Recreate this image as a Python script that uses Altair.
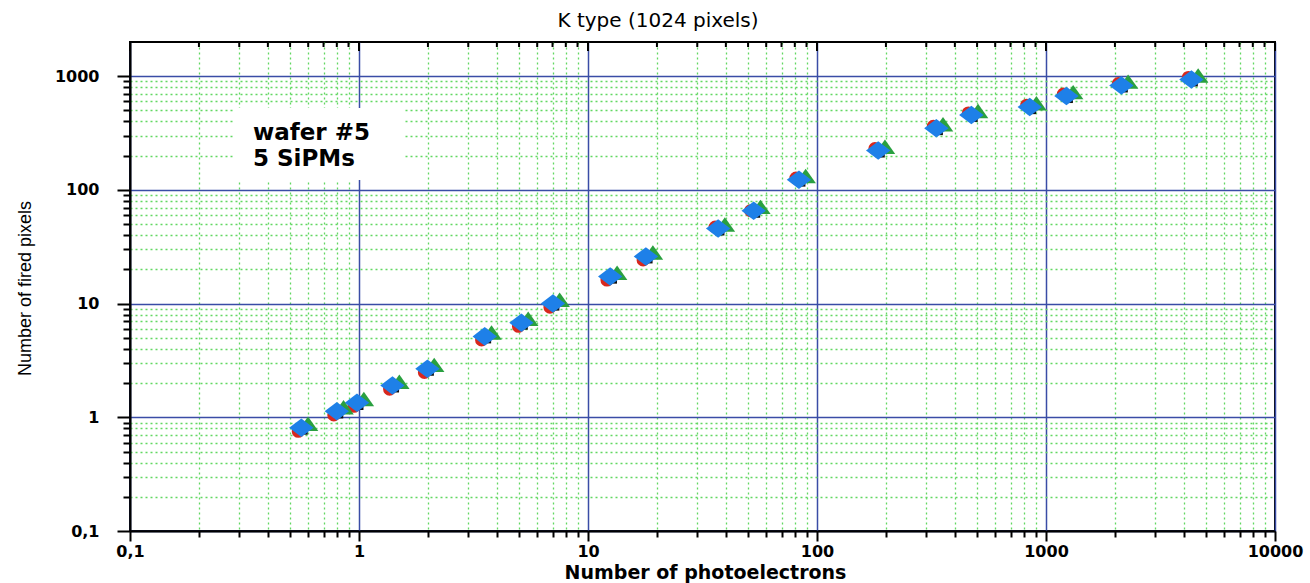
import altair as alt
import pandas as pd

# Mean number of photoelectrons (x) and number of fired pixels (y), one list pair per SiPM
pe_red = [0.543, 0.776, 0.951, 1.36, 1.93, 3.43, 4.97, 6.82, 12.1, 17.4, 35.9, 51.3, 80.9, 179, 322, 458, 824, 1191, 2070, 4186]
fired_red = [0.753, 1.05, 1.25, 1.77, 2.48, 4.79, 6.32, 9.30, 16.1, 24.2, 47.2, 65.6, 127, 231, 363, 475, 556, 696, 862, 975]

pe_black = [0.571, 0.816, 1.00, 1.43, 2.03, 3.61, 5.22, 7.17, 12.8, 18.3, 37.7, 54.0, 85.1, 189, 339, 481, 866, 1253, 2177, 4401]
fired_black = [0.770, 1.07, 1.27, 1.81, 2.54, 4.89, 6.46, 9.50, 16.4, 24.7, 43.5, 62.3, 117, 211, 332, 434, 508, 636, 788, 890]

pe_green = [0.599, 0.856, 1.05, 1.50, 2.13, 3.79, 5.48, 7.52, 13.4, 19.2, 39.6, 56.6, 89.2, 198, 355, 505, 908, 1314, 2283, 4617]
fired_green = [0.859, 1.20, 1.42, 2.01, 2.83, 5.46, 7.21, 10.6, 18.3, 27.6, 48.6, 69.5, 130, 235, 370, 484, 567, 709, 879, 993]

pe_blue = [0.56, 0.80, 0.98, 1.40, 1.99, 3.54, 5.12, 7.03, 12.5, 17.9, 37.0, 52.9, 83.4, 185, 332, 472, 849, 1228, 2134, 4315]
fired_blue = [0.81, 1.13, 1.34, 1.90, 2.67, 5.15, 6.80, 10.0, 17.3, 26.0, 45.8, 65.6, 123, 222, 349, 457, 535, 669, 829, 937]

# drawing order: first entry at the back, last on top
SERIES = [
    # (pe, fired, colour, shape, size)
    (pe_red, fired_red, "#d8281e", "circle", 170),
    (pe_black, fired_black, "#111111", "square", 80),
    (pe_green, fired_green, "#2aa040", "M0,-1L1.25,0.75L-1.25,0.75Z", 270),
    (pe_blue, fired_blue, "#1e80e8", "M-1.25,0L0,-0.95L1.25,0L0,0.95Z", 380),
]

MAJOR_X = [0.1, 1, 10, 100, 1000, 10000]
MAJOR_Y = [0.1, 1, 10, 100, 1000]
MINOR_STEPS = [2, 3, 4, 5, 6, 7, 8, 9]

X_DOMAIN = [0.1, 10000]
Y_DOMAIN = [0.1, 2000]

TITLE = "K type (1024 pixels)"
X_TITLE = "Number of photoelectrons"
Y_TITLE = "Number of fired pixels"
NOTE = "wafer #5\n5 SiPMs"

BLUE_GRID = "#3a4ca6"
GREEN_GRID = "#62d862"


def minor_ticks(majors):
    return [round(d * k, 6) for d in majors[:-1] for k in MINOR_STEPS]


X_MINOR = minor_ticks(MAJOR_X)
Y_MINOR = minor_ticks(MAJOR_Y)
X_TICKS = sorted(MAJOR_X + X_MINOR)
Y_TICKS = sorted(MAJOR_Y + Y_MINOR)


def is_major(majors, field="datum.value"):
    return f"indexof({majors}, {field}) >= 0"


def label_expr(majors):
    return (
        "datum.value == 0.1 ? '0,1' : ("
        + is_major(majors)
        + " ? format(datum.value, 'd') : '')"
    )


label_font = "DejaVu Sans"

x_scale = alt.Scale(type="log", domain=X_DOMAIN, nice=False)
y_scale = alt.Scale(type="log", domain=Y_DOMAIN, nice=False)

x_axis = alt.Axis(
    values=X_TICKS,
    title=X_TITLE,
    labelExpr=label_expr(MAJOR_X),
    labelOverlap=False,
    labelBound=False,
    labelFlush=False,
    labelFont=label_font,
    labelFontSize=16,
    labelFontWeight="bold",
    labelColor="black",
    labelPadding=2,
    grid=True,
    gridColor={"condition": {"test": is_major(MAJOR_X), "value": BLUE_GRID}, "value": GREEN_GRID},
    gridDash={"condition": {"test": is_major(MAJOR_X), "value": []}, "value": [2, 3]},
    gridWidth={"condition": {"test": is_major(MAJOR_X), "value": 1.5}, "value": 1.3},
    tickSize={"condition": {"test": is_major(MAJOR_X), "value": 10}, "value": 6},
    tickWidth=2,
    tickColor="black",
    domainColor="black",
    domainWidth=2,
    titleFont=label_font,
    titleFontSize=19,
    titleFontWeight="bold",
    titleColor="black",
    titleX=575,
    titleY=47,
    titleAlign="center",
    titleBaseline="alphabetic",
)

y_axis = alt.Axis(
    values=Y_TICKS,
    title=Y_TITLE,
    labelExpr=label_expr(MAJOR_Y),
    labelOverlap=False,
    labelBound=False,
    labelFlush=False,
    labelFont=label_font,
    labelFontSize=16,
    labelFontWeight="bold",
    labelColor="black",
    labelPadding=18,
    grid=True,
    gridColor={"condition": {"test": is_major(MAJOR_Y), "value": BLUE_GRID}, "value": GREEN_GRID},
    gridDash={"condition": {"test": is_major(MAJOR_Y), "value": []}, "value": [2, 3]},
    gridWidth={"condition": {"test": is_major(MAJOR_Y), "value": 1.5}, "value": 1.3},
    tickSize={"condition": {"test": is_major(MAJOR_Y), "value": 13}, "value": 7},
    tickWidth=2,
    tickColor="black",
    domainColor="black",
    domainWidth=2,
    titleFont="Liberation Sans",
    titleFontSize=18,
    titleFontWeight="normal",
    titleColor="black",
    titleAngle=270,
    titleX=-105,
    titleY=246,
    titleAlign="center",
    titleBaseline="middle",
)

layers = []
for xs, ys, colour, shape, size in SERIES:
    layers.append(
        alt.Chart(pd.DataFrame({"pe": xs, "fired": ys}))
        .mark_point(filled=True, opacity=1, strokeWidth=0, color=colour, shape=shape, size=size)
        .encode(
            x=alt.X("pe:Q", scale=x_scale, axis=x_axis),
            y=alt.Y("fired:Q", scale=y_scale, axis=y_axis),
        )
    )

# inward ticks along the top frame: long at decades, short in between
top_major = (
    alt.Chart(pd.DataFrame({"pe": MAJOR_X}))
    .mark_rule(color="black", strokeWidth=2)
    .encode(x=alt.X("pe:Q", scale=x_scale, axis=x_axis), y=alt.value(0), y2=alt.value(9))
)
top_minor = (
    alt.Chart(pd.DataFrame({"pe": X_MINOR}))
    .mark_rule(color="black", strokeWidth=2)
    .encode(x=alt.X("pe:Q", scale=x_scale, axis=x_axis), y=alt.value(0), y2=alt.value(5))
)

note_box = (
    alt.Chart(alt.Data(values=[{}]))
    .mark_rect(color="white")
    .encode(x=alt.value(105), x2=alt.value(275), y=alt.value(66), y2=alt.value(138))
)

note_text = (
    alt.Chart(alt.Data(values=[{}]))
    .mark_text(
        text=NOTE,
        lineBreak="\n",
        align="left",
        baseline="alphabetic",
        font=label_font,
        fontSize=23,
        fontWeight="bold",
        color="black",
        lineHeight=26,
    )
    .encode(x=alt.value(123), y=alt.value(98))
)

title_text = (
    alt.Chart(alt.Data(values=[{}]))
    .mark_text(
        text=TITLE,
        align="center",
        baseline="alphabetic",
        font=label_font,
        fontSize=20,
        color="black",
    )
    .encode(x=alt.value(528), y=alt.value(-15))
)

chart = (
    alt.layer(top_major, top_minor, *layers, note_box, note_text, title_text)
    .resolve_scale(x="shared", y="shared")
    .properties(
        width=1145,
        height=489,
        padding={"left": 130, "top": 42, "right": 35, "bottom": 52},
        autosize=alt.AutoSizeParams(type="none"),
        background="white",
    )
    .configure_view(stroke="black", strokeWidth=2)
)

chart.save("out.html", embed_options={"renderer": "svg", "actions": False})
